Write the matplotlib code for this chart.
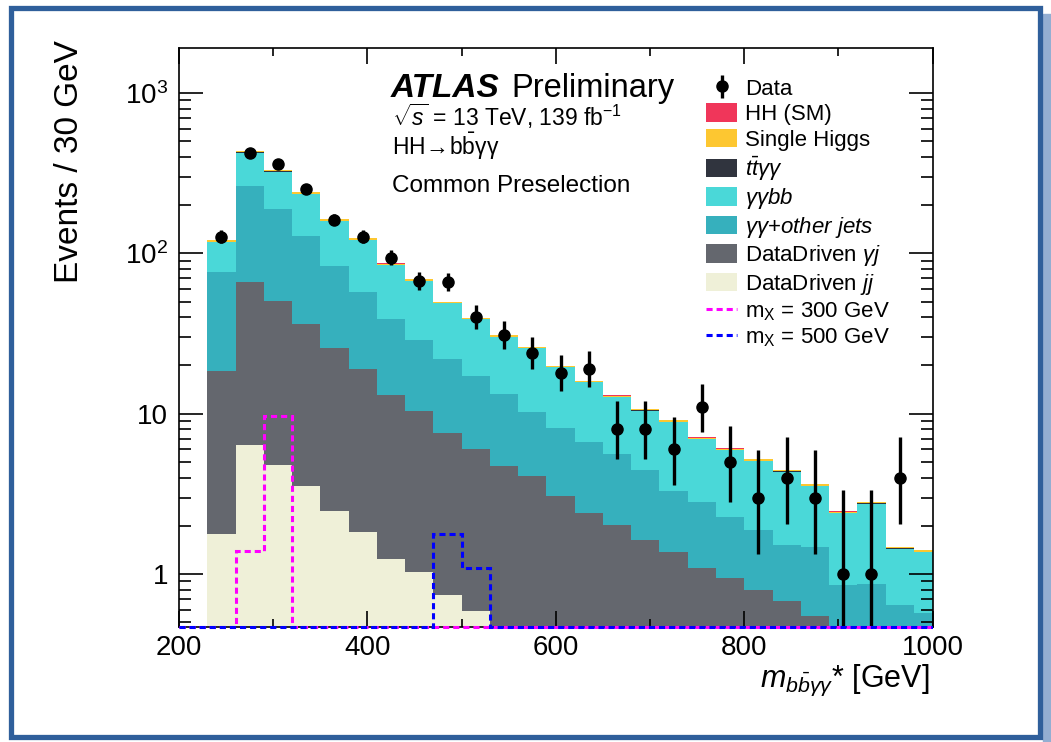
import matplotlib
matplotlib.use("Agg")
import matplotlib.pyplot as plt
import numpy as np
from matplotlib.lines import Line2D
from matplotlib.patches import Patch, Rectangle
from matplotlib.ticker import FixedLocator, FuncFormatter, LogLocator, MultipleLocator, NullFormatter

plt.rcParams['font.family'] = ['Liberation Sans', 'DejaVu Sans']
plt.rcParams['mathtext.fontset'] = 'custom'
plt.rcParams['mathtext.rm'] = 'Liberation Sans'
plt.rcParams['mathtext.it'] = 'Liberation Sans:italic'
plt.rcParams['mathtext.bf'] = 'Liberation Sans:bold'

W, H = 1051, 742
YMIN, YMAX = 0.47, 1900

# 30 GeV bins, background binning starts at 230, signal binning at 200
bin_edges = np.arange(230, 1011, 30)
signal_edges = np.arange(200, 1011, 30)

# observed events (first 25 bins)
data_counts = [127, 423, 361, 252, 162, 127, 94, 67, 66, 40, 31, 24, 18, 19,
               8, 8, 6, 11, 5, 3, 4, 3, 1, 1, 4]

# background yields per bin, stacked bottom -> top
jj_yield = [1.79, 6.35, 4.82, 3.53, 2.47, 1.82, 1.25, 1.03, 0.74, 0.59, 0, 0, 0,
            0, 0, 0, 0, 0, 0, 0, 0, 0, 0, 0, 0, 0]
gj_yield = [16.7, 59.5, 45.4, 33.0, 23.1, 17.1, 11.85, 9.37, 6.86, 5.41, 4.7,
            4.1, 3.06, 2.42, 2.01, 1.64, 1.38, 1.09, 0.95, 0.79, 0.68, 0.55,
            0, 0, 0, 0]
yy_other_yield = [58.5, 196, 138, 91.5, 57.9, 38.6, 26.1, 18.6, 14.3, 11.1,
                  8.6, 6.2, 5.04, 4.28, 3.59, 2.83, 1.92, 1.71, 1.32, 1.09,
                  0.83, 0.92, 0.855, 0.87, 0.64, 0.57]
yybb_yield = [40.6, 162.8, 135, 106.8, 76, 63.8, 45.4, 38.5, 27, 21.7, 16.8,
              15.3, 11.35, 9.05, 7.1, 6.0, 5.58, 4.15, 3.67, 3.2, 2.84, 2.07,
              1.54, 1.88, 0.8, 0.8]
ttyy_yield = [0.3, 1.0, 0.8, 0.6, 0.4, 0.3, 0.25, 0.2, 0.15, 0.12, 0.1, 0.08,
              0.06, 0.05, 0.04, 0.03, 0.03, 0.02, 0.02, 0.02, 0.015, 0.01,
              0.01, 0.01, 0.005, 0.005]
single_higgs_yield = [2.5, 8, 6, 4.5, 3, 2.3, 1.6, 1.3, 0.95, 0.75, 0.6, 0.5,
                      0.38, 0.3, 0.25, 0.2, 0.17, 0.13, 0.11, 0.1, 0.085,
                      0.07, 0.05, 0.055, 0.03, 0.03]
hh_sm_yield = [0.05, 0.2, 0.15, 0.1, 0.08, 0.06, 0.05, 0.04, 0.03, 0.03, 0.02,
               0.02, 0.01, 0.01, 0.01, 0.01, 0.01, 0.01, 0.01, 0.01, 0.01,
               0.01, 0.01, 0.01, 0.01, 0.01]

# resonant signal templates
sig_300 = [0, 0, 1.40, 9.66, 0, 0, 0, 0, 0, 0, 0, 0, 0, 0, 0, 0, 0, 0, 0, 0,
           0, 0, 0, 0, 0, 0, 0]
sig_500 = [0, 0, 0, 0, 0, 0, 0, 0, 0, 1.77, 1.09, 0, 0, 0, 0, 0, 0, 0, 0, 0,
           0, 0, 0, 0, 0, 0, 0]

stack = [
    (jj_yield, "#eff0d8"),
    (gj_yield, "#64676e"),
    (yy_other_yield, "#36b0bd"),
    (yybb_yield, "#4ad8d8"),
    (ttyy_yield, "#30343e"),
    (single_higgs_yield, "#fdc731"),
    (hh_sm_yield, "#f0365a"),
]

fig = plt.figure(figsize=(W / 100, H / 100), dpi=100)
ax = fig.add_axes([179 / W, 1 - 626.7 / H, (932.7 - 179) / W, (626.7 - 48.3) / H])

bottom = np.full(len(bin_edges) - 1, 1e-3)
for vals, color in stack:
    top = bottom + np.asarray(vals, dtype=float)
    ax.stairs(top, bin_edges, baseline=bottom, fill=True, color=color,
              lw=0, antialiased=False, zorder=1)
    bottom = top

# empty signal bins sit on the lower edge of the frame, as in ROOT
sig_dash = (0, (2.0, 1.3))
for vals, color in ((sig_300, "#ff00ff"), (sig_500, "#0000ff")):
    ln = ax.stairs(np.maximum(vals, YMIN), signal_edges, color=color, lw=2.2,
                   ls=sig_dash, baseline=None, zorder=7)
    # let the bottom dashes show fully over the frame line
    ln.set_clip_path(Rectangle((0, -0.01), 1, 1.02, transform=ax.transAxes))

# data with approximate Poisson (Garwood) intervals
n = np.array(data_counts, dtype=float)
x_data = bin_edges[:len(n)] + 15
err_lo = np.sqrt(n - 0.25)
err_hi = np.sqrt(n + 0.75) + 1
data_h = ax.errorbar(x_data, n, yerr=[err_lo, err_hi], fmt='o', color='black',
                     ms=8, elinewidth=2.4, capsize=0, zorder=5)

ax.set_xlim(200, 1000)
ax.set_yscale('log')
ax.set_ylim(YMIN, YMAX)

ax.xaxis.set_major_locator(MultipleLocator(200))
ax.xaxis.set_minor_locator(MultipleLocator(100))
ax.yaxis.set_major_locator(FixedLocator([1, 10, 100, 1000]))
ax.yaxis.set_minor_locator(LogLocator(base=10, subs=np.arange(2, 10)))
ax.yaxis.set_minor_formatter(NullFormatter())


def ylab(v, pos):
    if v < 50:
        return f"{v:g}"
    return r"$\mathregular{10^{%d}}$" % round(np.log10(v))


ax.yaxis.set_major_formatter(FuncFormatter(ylab))
ax.tick_params(which='both', direction='in', top=True, right=True, width=1.2,
               labelsize=20, colors='black')
ax.tick_params(axis='x', which='major', length=11.5, pad=6)
ax.tick_params(axis='x', which='minor', length=5.8)
ax.tick_params(axis='y', which='major', length=17, pad=8)
ax.tick_params(axis='y', which='minor', length=8.4)
for sp in ax.spines.values():
    sp.set_linewidth(1.2)
    sp.set_zorder(6)

# axis titles
fig.text(930 / W, 1 - 687 / H, r"$m_{b\bar{b}\gamma\gamma}$* [GeV]", ha='right',
         va='baseline', fontsize=22)
fig.text(70 / W, 1 - 40 / H, "Events / 30 GeV", rotation=90, ha='center',
         va='top', fontsize=24)

# ATLAS label block
fig.text(391 / W, 1 - 96.7 / H, "ATLAS", fontsize=24, fontweight='bold',
         fontstyle='italic', va='baseline')
fig.text(511 / W, 1 - 96.7 / H, "Preliminary", fontsize=23.5, va='baseline')
fig.text(392 / W, 1 - 125.7 / H, r"$\sqrt{s}$ = 13 TeV, 139 fb$^{\mathregular{-1}}$",
         fontsize=16.5, va='baseline')
fig.text(392 / W, 1 - 155 / H, r"HH$\!\rightarrow\!$b$\bar{\mathrm{b}}$γγ",
         fontsize=16.5, va='baseline')
fig.text(392 / W, 1 - 191.7 / H, "Common Preselection", fontsize=17.5,
         va='baseline')

handles = [
    data_h,
    Patch(facecolor="#f0365a", edgecolor='none'),
    Patch(facecolor="#fdc731", edgecolor='none'),
    Patch(facecolor="#30343e", edgecolor='none'),
    Patch(facecolor="#4ad8d8", edgecolor='none'),
    Patch(facecolor="#36b0bd", edgecolor='none'),
    Patch(facecolor="#64676e", edgecolor='none'),
    Patch(facecolor="#eff0d8", edgecolor='none'),
    Line2D([], [], color="#ff00ff", lw=2.2, ls=sig_dash),
    Line2D([], [], color="#0000ff", lw=2.2, ls=sig_dash),
]
labels = [
    "Data",
    "HH (SM)",
    "Single Higgs",
    r"$t\bar{t}\gamma\gamma$",
    r"$\gamma\gamma bb$",
    r"$\gamma\gamma$+$other\ jets$",
    r"DataDriven $\gamma j$",
    r"DataDriven $jj$",
    r"m$_\mathregular{X}$ = 300 GeV",
    r"m$_\mathregular{X}$ = 500 GeV",
]
fig.legend(handles, labels, loc='upper left',
           bbox_to_anchor=(706 / W, 1 - 78 / H), frameon=False,
           fontsize=16, handlelength=1.4, handleheight=0.9,
           handletextpad=0.35, labelspacing=0.16, borderpad=0,
           borderaxespad=0)

# slide frame around the chart
fig.patches.append(Rectangle((1043 / W, 0), 8 / W, 1 - 14 / H,
                             transform=fig.transFigure, color="#93aed2", zorder=0))
fig.patches.append(Rectangle((10.5 / W, 1 - 737 / H), 1029.5 / W, 729 / H,
                             transform=fig.transFigure, fill=False,
                             ec="#2f5f9b", lw=3.8, zorder=0))

fig.savefig("out.png", dpi=100)
